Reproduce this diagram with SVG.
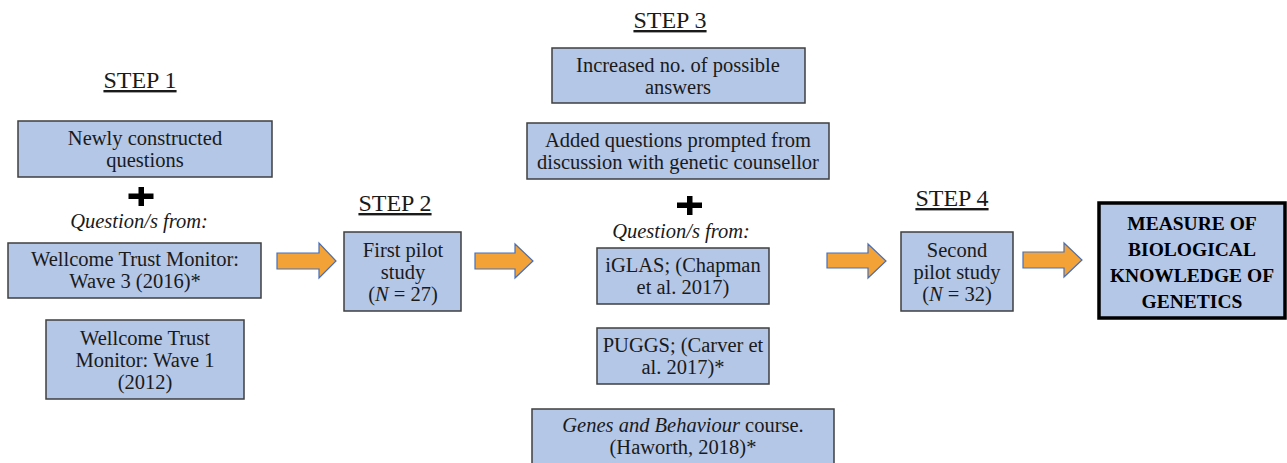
<svg xmlns="http://www.w3.org/2000/svg" width="1287" height="463" viewBox="0 0 1287 463">
  <style>
    .box { fill: #B4C7E7; stroke: #3F3F3F; stroke-width: 1.5; }
    .final { fill: #B4C7E7; stroke: #000000; stroke-width: 3.5; }
    .t { font-family: "Liberation Serif", "DejaVu Serif", serif; font-size: 20.5px; fill: #1a1a1a; text-anchor: middle; }
    .it { font-style: italic; }
    .step { font-family: "Liberation Serif", "DejaVu Serif", serif; font-size: 24px; fill: #1a1a1a; text-anchor: middle; text-decoration: underline; }
    .bold { font-family: "Liberation Serif", "DejaVu Serif", serif; font-size: 19.5px; font-weight: bold; fill: #000; text-anchor: middle; }
    .arrow { fill: #F2A236; stroke: #4A6FB5; stroke-width: 1.2; }
    .plus { fill: #000; }
  </style>

  <!-- step headings -->
  <g id="headings">
    <text class="step" x="140" y="88">STEP 1</text>
    <text class="step" x="395" y="211">STEP 2</text>
    <text class="step" x="670" y="28">STEP 3</text>
    <text class="step" x="952" y="206">STEP 4</text>
  </g>

  <!-- step 1 -->
  <g id="newly">
    <rect class="box" x="18" y="121" width="254" height="56"/>
    <text class="t" x="145" y="145">Newly constructed</text>
    <text class="t" x="145" y="167">questions</text>
  </g>
  <g id="plus1">
    <rect class="plus" x="138.5" y="187" width="5.5" height="19"/>
    <rect class="plus" x="128.5" y="193.5" width="25" height="5.5"/>
  </g>
  <text class="t it" x="139" y="228">Question/s from:</text>
  <g id="wave3">
    <rect class="box" x="8" y="243" width="253" height="55"/>
    <text class="t" x="135" y="266">Wellcome Trust Monitor:</text>
    <text class="t" x="135" y="288">Wave 3 (2016)*</text>
  </g>
  <g id="wave1">
    <rect class="box" x="46" y="320" width="198" height="79"/>
    <text class="t" x="145" y="345">Wellcome Trust</text>
    <text class="t" x="145" y="367">Monitor: Wave 1</text>
    <text class="t" x="145" y="389">(2012)</text>
  </g>

  <!-- step 2 -->
  <g id="pilot1">
    <rect class="box" x="344" y="232" width="117" height="79"/>
    <text class="t" x="403" y="257">First pilot</text>
    <text class="t" x="403" y="279">study</text>
    <text class="t" x="403" y="301">(<tspan class="it">N</tspan> = 27)</text>
  </g>

  <!-- step 3 -->
  <g id="answers">
    <rect class="box" x="552" y="48" width="253" height="55"/>
    <text class="t" x="678" y="72">Increased no. of possible</text>
    <text class="t" x="678" y="94">answers</text>
  </g>
  <g id="counsellor">
    <rect class="box" x="527" y="123" width="302" height="56"/>
    <text class="t" x="678" y="147">Added questions prompted from</text>
    <text class="t" x="678" y="169">discussion with genetic counsellor</text>
  </g>
  <g id="plus3">
    <rect class="plus" x="687" y="196" width="5.5" height="19"/>
    <rect class="plus" x="677" y="202.5" width="25" height="5.5"/>
  </g>
  <text class="t it" x="681" y="238">Question/s from:</text>
  <g id="iglas">
    <rect class="box" x="597" y="248" width="172" height="56"/>
    <text class="t" x="683" y="272">iGLAS; (Chapman</text>
    <text class="t" x="683" y="294">et al. 2017)</text>
  </g>
  <g id="puggs">
    <rect class="box" x="597" y="328" width="172" height="56"/>
    <text class="t" x="683" y="352">PUGGS; (Carver et</text>
    <text class="t" x="683" y="374">al. 2017)*</text>
  </g>
  <g id="genes">
    <rect class="box" x="532" y="409" width="302" height="58"/>
    <text class="t" x="683" y="432"><tspan class="it">Genes and Behaviour</tspan> course.</text>
    <text class="t" x="683" y="454">(Haworth, 2018)*</text>
  </g>

  <!-- step 4 -->
  <g id="pilot2">
    <rect class="box" x="901" y="232" width="112" height="79"/>
    <text class="t" x="957" y="257">Second</text>
    <text class="t" x="957" y="279">pilot study</text>
    <text class="t" x="957" y="301">(<tspan class="it">N</tspan> = 32)</text>
  </g>

  <g id="measure">
    <rect class="final" x="1099" y="203" width="186" height="115"/>
    <text class="bold" x="1192" y="230">MEASURE OF</text>
    <text class="bold" x="1192" y="256">BIOLOGICAL</text>
    <text class="bold" x="1192" y="282">KNOWLEDGE OF</text>
    <text class="bold" x="1192" y="308">GENETICS</text>
  </g>

  <!-- block arrows between steps -->
  <g id="connectors">
    <path class="arrow" d="M277,253 H319 V243 L336,261 L319,278 V269 H277 Z"/>
    <path class="arrow" d="M475,253 H515 V244 L533,261 L515,278 V269 H475 Z"/>
    <path class="arrow" d="M827,253 H868 V244 L886,261 L868,278 V268 H827 Z"/>
    <path class="arrow" d="M1023,252 H1064 V243 L1082,260 L1064,277 V268 H1023 Z"/>
  </g>
</svg>
